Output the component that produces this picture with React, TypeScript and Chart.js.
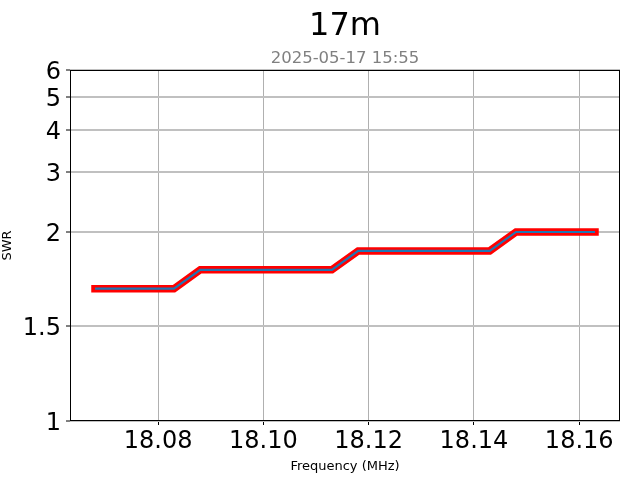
import { useEffect, useRef } from "react";
import { Chart, registerables } from "chart.js";

Chart.register(...registerables);

const TITLE = "17m";
const SUBTITLE = "2025-05-17 15:55";
const X_LABEL = "Frequency (MHz)";
const Y_LABEL = "SWR";

const freqMHz = [
  18.068, 18.073, 18.078, 18.083, 18.088, 18.093, 18.098, 18.103, 18.108, 18.113,
  18.118, 18.123, 18.128, 18.133, 18.138, 18.143, 18.148, 18.153, 18.158, 18.163,
];
const swrValues = [
  1.7, 1.7, 1.7, 1.7, 1.8, 1.8, 1.8, 1.8, 1.8, 1.8,
  1.9, 1.9, 1.9, 1.9, 1.9, 1.9, 2.0, 2.0, 2.0, 2.0,
];

const xTicks = [18.08, 18.1, 18.12, 18.14, 18.16];
const yTicks = [1, 1.5, 2, 3, 4, 5, 6];
const yTickLabels = ["1", "1.5", "2", "3", "4", "5", "6"];

// SWR axis: linear up to 2, logarithmic above
const K = 1.796;
const swrScale = (s: number) => (s <= 2 ? s : 2 + Math.log10(s / 2) * K);

const FONT = "'DejaVu Sans', sans-serif";

export default function App() {
  const ref = useRef<HTMLCanvasElement | null>(null);

  useEffect(() => {
    document.body.style.margin = "0";
    const canvas = ref.current;
    if (!canvas) return;

    const xMinData = Math.min(...freqMHz);
    const xMaxData = Math.max(...freqMHz);
    const xr = xMaxData - xMinData;

    const points = freqMHz.map((x, i) => ({ x, y: swrScale(swrValues[i]) }));

    const frame = {
      id: "frame",
      afterDraw(chart: any) {
        const { ctx, chartArea } = chart;
        ctx.save();
        ctx.strokeStyle = "#000";
        ctx.lineWidth = 1;
        ctx.strokeRect(
          Math.round(chartArea.left) + 0.5,
          Math.round(chartArea.top) + 0.5,
          Math.round(chartArea.right - chartArea.left) - 1,
          Math.round(chartArea.bottom - chartArea.top) - 1
        );
        ctx.restore();
      },
    };

    const chart = new Chart(canvas, {
      type: "line",
      data: {
        datasets: [
          {
            data: points,
            borderColor: "#1f77b4",
            borderWidth: 2.2,
            pointRadius: 0,
            fill: false,
            tension: 0,
            borderCapStyle: "butt",
          },
          {
            data: points,
            borderColor: "#ff0000",
            borderWidth: 7.5,
            pointRadius: 0,
            fill: false,
            tension: 0,
            borderCapStyle: "square",
            borderJoinStyle: "miter",
          },
        ],
      },
      options: {
        responsive: false,
        animation: false,
        layout: { padding: { left: 0, right: 20, top: 0, bottom: 0 } },
        plugins: {
          legend: { display: false },
          tooltip: { enabled: false },
          title: {
            display: true,
            fullSize: false,
            text: TITLE,
            color: "#000",
            font: { family: FONT, size: 32, weight: "normal" },
            padding: { top: 7, bottom: 0 },
          },
          subtitle: {
            display: true,
            fullSize: false,
            text: SUBTITLE,
            color: "#808080",
            font: { family: FONT, size: 16.5, weight: "normal" },
            padding: { top: 3.4, bottom: 1.4 },
          },
        },
        scales: {
          x: {
            type: "linear",
            min: xMinData - 0.05 * xr,
            max: xMaxData + 0.05 * xr,
            afterBuildTicks: (scale: any) => {
              scale.ticks = xTicks.map((v) => ({ value: v }));
            },
            afterFit: (scale: any) => {
              scale.height = 59;
              scale.paddingLeft = 0;
              scale.paddingRight = 0;
            },
            ticks: {
              color: "#000",
              font: { family: FONT, size: 24 },
              padding: 2,
              maxRotation: 0,
              autoSkip: false,
              callback: (v: any) => Number(v).toFixed(2),
            },
            grid: {
              color: "#b0b0b0",
              lineWidth: 1,
              drawTicks: true,
              tickLength: 4,
              tickColor: "#000",
              tickWidth: 1,
            },
            border: { display: false },
            title: {
              display: true,
              text: X_LABEL,
              color: "#000",
              font: { family: FONT, size: 13 },
              padding: { top: 0, bottom: 6 },
            },
          },
          y: {
            type: "linear",
            min: swrScale(1),
            max: swrScale(6),
            afterBuildTicks: (scale: any) => {
              scale.ticks = yTicks.map((v) => ({ value: swrScale(v) }));
            },
            afterFit: (scale: any) => {
              scale.width = 70;
              scale.paddingTop = 0;
              scale.paddingBottom = 0;
            },
            ticks: {
              color: "#000",
              font: { family: FONT, size: 24 },
              padding: 5,
              labelOffset: 2.5,
              autoSkip: false,
              callback: (_v: any, i: number) => yTickLabels[i],
            },
            grid: {
              color: "#c0c0c0",
              lineWidth: 2,
              drawTicks: true,
              tickLength: 4,
              tickColor: "#000",
              tickWidth: 1,
            },
            border: { display: false },
            title: {
              display: true,
              text: Y_LABEL,
              color: "#000",
              font: { family: FONT, size: 13 },
              padding: { top: 0, bottom: 0 },
            },
          },
        },
      },
      plugins: [frame],
    } as any);

    return () => chart.destroy();
  }, []);

  return (
    <div style={{ width: 640, height: 480 }}>
      <canvas ref={ref} width={640} height={480} style={{ display: "block" }} />
    </div>
  );
}
